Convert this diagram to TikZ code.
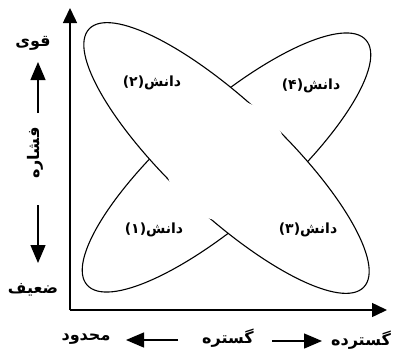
\documentclass[tikz,border=0pt]{standalone}
\usepackage{fontspec}
\newfontfamily\arabicfont[Script=Arabic]{DejaVu Sans}
\TeXXeTstate=1
\usetikzlibrary{arrows.meta}
\begin{document}
\begin{tikzpicture}[x=1pt,y=-1pt,
  lobe/.style={line width=1.1pt},
  axisline/.style={line width=1.5pt,-{Triangle[length=15pt,width=14pt]}},
  smallarrow/.style={line width=1.3pt,-{Triangle[length=18pt,width=15pt]}},
  lab/.style={font=\arabicfont\bfseries\fontsize{14}{16}\selectfont, inner sep=0pt},
  word/.style={font=\arabicfont\bfseries\fontsize{16}{18}\selectfont, inner sep=0pt},
  ellA/.style={shift={(226.5,162.5)}, rotate=41.3},
  ellB/.style={shift={(226.5,158)}, rotate=-43.2}]
\useasboundingbox (0,0) rectangle (394,351);
% ellipse A (lobes 1 and 4)
\draw[lobe, ellA] (0,0) ellipse [x radius=185.6, y radius=56];
% hide A inside B
\fill[white, ellB] (0,0) ellipse [x radius=188.5, y radius=56];
% ellipse B (lobes 2 and 3)
\draw[lobe, ellB] (0,0) ellipse [x radius=188.5, y radius=56];
% clear the centre
\fill[white] (226.5,160) circle [radius=61];
% labels in lobes
\node[lab] (d2) at (152,83) {(۲)\beginR دانش\endR};
\node[lab] (d4) at (311,86) {(۴)\beginR دانش\endR};
\node[lab] (d1) at (154,230) {(۱)\beginR دانش\endR};
\node[lab] (d3) at (308,230) {(۳)\beginR دانش\endR};
% axes
\coordinate (O) at (70,310);
\coordinate (ytip) at (70,8);
\coordinate (xtip) at (387,310);
\draw[axisline] (O) -- (ytip);
\draw[axisline] (O) -- (xtip);
% left side words and arrows
\node[word] (qavi) at (33,43) {\beginR قوی\endR};
\node[word, rotate=90] (feshare) at (35,153) {\beginR فشاره\endR};
\node[word] (zaif) at (33,290) {\beginR ضعیف\endR};
\coordinate (upA) at (38,113);
\coordinate (upB) at (38,62);
\coordinate (dnA) at (38,205);
\coordinate (dnB) at (38,263);
\draw[smallarrow] (upA) -- (upB);
\draw[smallarrow] (dnA) -- (dnB);
% bottom words and arrows
\node[word] (gostare) at (228,338) {\beginR گستره\endR};
\node[word] (mahdud) at (86,339) {\beginR محدود\endR};
\node[word] (gostarde) at (361,340) {\beginR گسترده\endR};
\coordinate (lfA) at (178,340);
\coordinate (lfB) at (126,340);
\coordinate (rtA) at (272,341);
\coordinate (rtB) at (322,341);
\draw[smallarrow] (lfA) -- (lfB);
\draw[smallarrow] (rtA) -- (rtB);
\end{tikzpicture}
\end{document}
